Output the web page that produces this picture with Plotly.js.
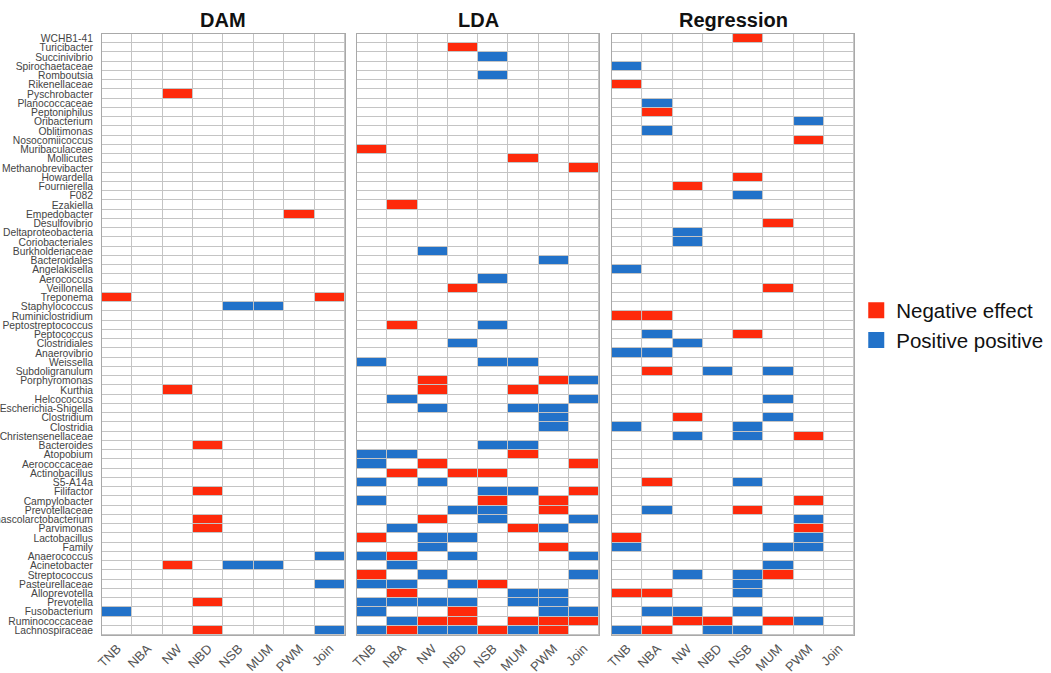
<!DOCTYPE html>
<html>
<head>
<meta charset="utf-8">
<script src="https://cdn.plot.ly/plotly-3.0.1.min.js"></script>
<style>html,body{margin:0;padding:0;background:#fff;}#chart{width:1051px;height:673px;}</style>
</head>
<body>
<div id="chart"></div>
<script>
// Taxa, top to bottom
const taxa = ["WCHB1-41","Turicibacter","Succinivibrio","Spirochaetaceae","Romboutsia","Rikenellaceae","Pyschrobacter","Planococcaceae","Peptoniphilus","Oribacterium","Oblitimonas","Nosocomiicoccus","Muribaculaceae","Mollicutes","Methanobrevibacter","Howardella","Fournierella","F082","Ezakiella","Empedobacter","Desulfovibrio","Deltaproteobacteria","Coriobacteriales","Burkholderiaceae","Bacteroidales","Angelakisella","Aerococcus","Veillonella","Treponema","Staphylococcus","Ruminiclostridium","Peptostreptococcus","Peptococcus","Clostridiales","Anaerovibrio","Weissella","Subdoligranulum","Porphyromonas","Kurthia","Helcococcus","Escherichia-Shigella","Clostridium","Clostridia","Christensenellaceae","Bacteroides","Atopobium","Aerococcaceae","Actinobacillus","S5-A14a","Filifactor","Campylobacter","Prevotellaceae","Phascolarctobacterium","Parvimonas","Lactobacillus","Family","Anaerococcus","Acinetobacter","Streptococcus","Pasteurellaceae","Alloprevotella","Prevotella","Fusobacterium","Ruminococcaceae","Lachnospiraceae"];

// Columns (x tick labels)
const methods = ["TNB","NBA","NW","NBD","NSB","MUM","PWM","Join"];

// Panel titles
const panels = ["DAM","LDA","Regression"];

// Effects per taxon (one char per column): N = negative effect, P = positive, . = none
const damRows = [
"........","........","........","........","........","........","..N.....","........","........","........",
"........","........","........","........","........","........","........","........","........","......N.",
"........","........","........","........","........","........","........","........","N......N","....PP..",
"........","........","........","........","........","........","........","........","..N.....","........",
"........","........","........","........","...N....","........","........","........","........","...N....",
"........","........","...N....","...N....","........","........",".......P","..N.PP..","........",".......P",
"........","...N....","P.......","........","...N...P"];

const ldaRows = [
"........","...N....","....P...","........","....P...","........","........","........","........","........",
"........","........","N.......",".....N..",".......N","........","........","........",".N......","........",
"........","........","........","..P.....","......P.","........","....P...","...N....","........","........",
"........",".N..P...","........","...P....","........","P...PP..","........","..N...NP","..N..N..",".P.....P",
"..P..PP.","......P.","......P.","........","....PP..","PP...N..","P.N....N",".N.NN...","P.P.....","....PP.N",
"P...N.N.","...PP.N.","..N.P..P",".P...NP.","N.PP....","..P...N.","PN.P...P",".P......","N.P....P","PP.PN...",
".N...PP.","PPPP.PP.","P..N..PP",".PNN.NNN","PNPPNPN."];

const regRows = [
"....N...","........","........","P.......","........","N.......","........",".P......",".N......","......P.",
".P......","......N.","........","........","........","....N...","..N.....","....P...","........","........",
".....N..","..P.....","..P.....","........","........","P.......","........",".....N..","........","........",
"NN......","........",".P..N...","..P.....","PP......","........",".N.P.P..","........","........",".....P..",
"........","..N..P..","P...P...","..P.P.N.","........","........","........","........",".N..P...","........",
"......N.",".P..N...","......P.","......N.","N.....P.","P....PP.","........",".....P..","..P.PN..","....P...",
"NN..P...","........",".PP.P...","..NN.NP.","PN.PP..."];

const legendNames = ["Negative effect","Positive positive"];
const RED = "#fe2a0b", BLUE = "#2272c9";

const code = {".":0, "N":-1, "P":1};
const toZ = rows => rows.map(s => s.split("").map(c => code[c]));
const allRows = [damRows, ldaRows, regRows];

const cs = [[0,RED],[0.25,RED],[0.25,"#ffffff"],[0.75,"#ffffff"],[0.75,BLUE],[1,BLUE]];
const axisIds = ["x","x2","x3"];
const traces = allRows.map((rows,i) => ({
  type:"heatmap", x: methods, y: taxa, z: toZ(rows),
  xaxis: axisIds[i], yaxis:"y", zmin:-1, zmax:1, colorscale: cs,
  showscale:false, xgap:1, ygap:1, hoverongaps:false
}));
// legend entries
traces.push({type:"scatter", mode:"markers", x:[null], y:[null], name: legendNames[0], xaxis:"x", yaxis:"y",
  marker:{symbol:"square", size:18, color:RED}, showlegend:true});
traces.push({type:"scatter", mode:"markers", x:[null], y:[null], name: legendNames[1], xaxis:"x", yaxis:"y",
  marker:{symbol:"square", size:18, color:BLUE}, showlegend:true});

const domains = [[0,0.3231],[0.3391,0.6609],[0.6782,1]];
const sans = "Liberation Sans, Arial, sans-serif";
const xa = d => ({
  domain:d, anchor:"y", type:"category", range:[-0.5,7.5], fixedrange:true,
  tickangle:-45, ticks:"", showgrid:false, zeroline:false,
  showline:true, mirror:true, linecolor:"#a9a9a9", linewidth:1,
  tickfont:{family:sans, size:13, color:"#555555"}
});

const layout = {
  width:1051, height:673,
  margin:{l:102, r:197, t:34, b:38, autoexpand:false},
  paper_bgcolor:"#ffffff", plot_bgcolor:"#c4c4c4",
  showlegend:true,
  legend:{x:1.003, xanchor:"left", y:0.515, yanchor:"middle", bgcolor:"rgba(0,0,0,0)",
    font:{family:sans, size:20.5, color:"#111111"},
    itemwidth:30, tracegroupgap:0},
  xaxis: xa(domains[0]), xaxis2: xa(domains[1]), xaxis3: xa(domains[2]),
  yaxis:{type:"category", autorange:"reversed", ticks:"", showgrid:false, zeroline:false,
    tickmode:"array", tickvals: taxa, ticktext: taxa,
    showline:true, mirror:"all", linecolor:"#a9a9a9", linewidth:1, ticklabelstandoff:6,
    tickfont:{family:sans, size:10.3, color:"#444444"}},
  annotations: panels.map((p,i) => ({
    text:"<b>"+p+"</b>", xref:(axisIds[i]+" domain"), x:0.5, yref:"paper", y:1,
    yanchor:"bottom", yshift:1, showarrow:false,
    font:{family:sans, size:20, color:"#111111"}
  }))
};

Plotly.newPlot("chart", traces, layout, {staticPlot:true, displayModeBar:false});
</script>
</body>
</html>
